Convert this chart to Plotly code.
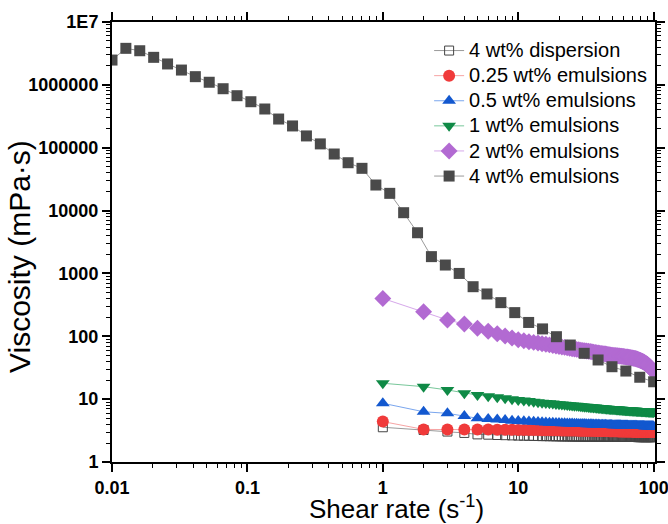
import plotly.graph_objects as go

# Shear rates (s^-1)
rate_4wt_emul = [0.01, 0.01266, 0.01603, 0.02031, 0.02572, 0.03257, 0.04125, 0.05223,
                 0.06615, 0.08377, 0.1061, 0.1344, 0.1701, 0.2154, 0.2728, 0.3455,
                 0.4375, 0.5541, 0.7017, 0.8886, 1.125, 1.425, 1.805, 2.285, 2.894,
                 3.665, 4.642, 5.878, 7.443, 9.427, 11.94, 15.12, 19.15, 24.24, 30.70,
                 38.88, 49.24, 62.36, 78.97, 100.0]
rate_steps = list(range(1, 101))

# Viscosities (mPa·s)
visc_4wt_emul = [2.48e6, 3.81e6, 3.49e6, 2.74e6, 2.15e6, 1.72e6, 1.35e6, 1.10e6,
                 8.68e5, 6.72e5, 5.39e5, 4.13e5, 2.86e5, 2.22e5, 1.54e5, 1.15e5,
                 7.94e4, 5.77e4, 4.70e4, 2.55e4, 1.88e4, 9.25e3, 4.44e3, 1.85e3,
                 1.36e3, 1.00e3, 615, 471, 343, 238, 166, 131, 98.5, 72.6, 53.6,
                 42.0, 32.8, 28.0, 22.3, 18.9]

visc_2wt_emul = [400, 246, 182, 157, 134, 120, 110, 101, 94, 88,
                 85, 82, 80, 78, 76, 74.5, 73, 71.5, 70, 68.5,
                 67.5, 66.5, 65.5, 64.5, 63.5, 62.5, 61.8, 61, 60.3, 59.6,
                 59, 58.4, 57.8, 57.2, 56.6, 56, 55.5, 55, 54.5, 54,
                 53.5, 53, 52.6, 52.2, 51.8, 51.4, 51, 50.6, 50.2, 49.8,
                 49.6, 49.4, 49.2, 49, 48.8, 48.5, 48.3, 48.1, 47.9, 47.6,
                 47.4, 47.1, 46.9, 46.7, 46.4, 46.2, 46, 45.7, 45.4, 45.1,
                 44.8, 44.5, 44.2, 43.8, 43.4, 43, 42.6, 42.2, 41.7, 41.2,
                 40.7, 40.2, 39.7, 39.2, 38.6, 38, 37.4, 36.8, 36.2, 35.5,
                 34.8, 34.1, 33.3, 32.5, 31.7, 30.9, 30.1, 29.3, 28.5, 27.7]

visc_1wt_emul = [17.9, 15.8, 14.0, 12.4, 11.6, 11.1, 10.7, 10.3, 10.0, 9.7,
                 9.5, 9.3, 9.1, 8.95, 8.8, 8.7, 8.6, 8.5, 8.4, 8.3,
                 8.22, 8.15, 8.08, 8.01, 7.94, 7.88, 7.82, 7.76, 7.7, 7.64,
                 7.59, 7.54, 7.49, 7.45, 7.41, 7.37, 7.33, 7.29, 7.25, 7.21,
                 7.18, 7.15, 7.12, 7.09, 7.06, 7.03, 7.0, 6.97, 6.94, 6.92,
                 6.9, 6.88, 6.86, 6.84, 6.82, 6.8, 6.78, 6.76, 6.74, 6.72,
                 6.7, 6.68, 6.67, 6.66, 6.64, 6.62, 6.61, 6.6, 6.58, 6.56,
                 6.55, 6.54, 6.53, 6.52, 6.5, 6.49, 6.48, 6.47, 6.46, 6.45,
                 6.44, 6.43, 6.42, 6.41, 6.4, 6.39, 6.38, 6.37, 6.36, 6.35,
                 6.34, 6.33, 6.32, 6.31, 6.3, 6.3, 6.29, 6.28, 6.27, 6.26]

visc_05wt_emul = [8.6, 6.3, 5.95, 5.4, 4.96, 4.85, 4.75, 4.65, 4.55, 4.48,
                  4.43, 4.39, 4.35, 4.32, 4.29, 4.26, 4.23, 4.21, 4.19, 4.17,
                  4.15, 4.13, 4.11, 4.1, 4.08, 4.07, 4.05, 4.04, 4.03, 4.02,
                  4.01, 4.0, 3.99, 3.98, 3.97, 3.96, 3.95, 3.94, 3.94, 3.93,
                  3.92, 3.91, 3.91, 3.9, 3.89, 3.89, 3.88, 3.87, 3.87, 3.86,
                  3.86, 3.85, 3.85, 3.84, 3.84, 3.83, 3.83, 3.82, 3.82, 3.81,
                  3.81, 3.8, 3.8, 3.8, 3.79, 3.79, 3.78, 3.78, 3.78, 3.77,
                  3.77, 3.77, 3.76, 3.76, 3.76, 3.75, 3.75, 3.75, 3.74, 3.74,
                  3.74, 3.73, 3.73, 3.73, 3.73, 3.72, 3.72, 3.72, 3.71, 3.71,
                  3.71, 3.71, 3.7, 3.7, 3.7, 3.7, 3.69, 3.69, 3.69, 3.68]

visc_025wt_emul = [4.4, 3.3, 3.28, 3.3, 3.3, 3.28, 3.27, 3.26, 3.25, 3.24,
                   3.23, 3.23, 3.22, 3.22, 3.21, 3.21, 3.2, 3.2, 3.19, 3.19,
                   3.18, 3.18, 3.17, 3.17, 3.16, 3.16, 3.16, 3.15, 3.15, 3.15,
                   3.14, 3.14, 3.14, 3.13, 3.13, 3.13, 3.12, 3.12, 3.12, 3.11,
                   3.11, 3.11, 3.1, 3.1, 3.1, 3.1, 3.09, 3.09, 3.09, 3.09,
                   3.08, 3.08, 3.08, 3.08, 3.07, 3.07, 3.07, 3.07, 3.07, 3.06,
                   3.06, 3.06, 3.06, 3.06, 3.05, 3.05, 3.05, 3.05, 3.05, 3.05,
                   3.04, 3.04, 3.04, 3.04, 3.04, 3.04, 3.04, 3.04, 3.04, 3.04,
                   3.04, 3.03, 3.03, 3.03, 3.03, 3.03, 3.03, 3.03, 3.03, 3.03,
                   3.02, 3.02, 3.02, 3.02, 3.02, 3.02, 3.02, 3.02, 3.02, 3.02]

visc_4wt_disp = [3.57, 3.23, 3.05, 2.9, 2.75, 2.72, 2.69, 2.67, 2.65, 2.63,
                 2.62, 2.61, 2.6, 2.59, 2.58, 2.58, 2.57, 2.57, 2.56, 2.56,
                 2.55, 2.55, 2.55, 2.55, 2.54, 2.54, 2.54, 2.54, 2.54, 2.53,
                 2.53, 2.53, 2.53, 2.53, 2.53, 2.52, 2.52, 2.52, 2.52, 2.52,
                 2.52, 2.52, 2.52, 2.51, 2.51, 2.51, 2.51, 2.51, 2.51, 2.51,
                 2.51, 2.51, 2.51, 2.51, 2.5, 2.5, 2.5, 2.5, 2.5, 2.5,
                 2.5, 2.5, 2.5, 2.5, 2.5, 2.5, 2.5, 2.5, 2.5, 2.5,
                 2.5, 2.5, 2.5, 2.5, 2.5, 2.49, 2.49, 2.49, 2.49, 2.49,
                 2.49, 2.49, 2.49, 2.49, 2.49, 2.49, 2.49, 2.49, 2.49, 2.49,
                 2.49, 2.49, 2.49, 2.49, 2.49, 2.49, 2.49, 2.49, 2.49, 2.49]

x_tick_vals = [0.01, 0.1, 1, 10, 100]
x_tick_text = ["0.01", "0.1", "1", "10", "100"]
y_tick_vals = [1, 10, 100, 1000, 10000, 100000, 1000000, 10000000]
y_tick_text = ["1", "10", "100", "1000", "10000", "100000", "1000000", "1E7"]

FONT = "Liberation Sans, Arial, sans-serif"

series = [
    ("4 wt% dispersion", rate_steps, visc_4wt_disp, "square-open", 9, "#444444", "#9a9a9a"),
    ("0.25 wt% emulsions", rate_steps, visc_025wt_emul, "circle", 12, "#f03a3a", "#f6a4a4"),
    ("0.5 wt% emulsions", rate_steps, visc_05wt_emul, "triangle-up", 12, "#1358cf", "#7aa6ee"),
    ("1 wt% emulsions", rate_steps, visc_1wt_emul, "triangle-down", 12, "#0f8a46", "#78c79a"),
    ("2 wt% emulsions", rate_steps, visc_2wt_emul, "diamond", 13, "#b26ad2", "#d6a8ea"),
    ("4 wt% emulsions", rate_4wt_emul, visc_4wt_emul, "square", 11, "#4a4a4a", "#9a9a9a"),
]

fig = go.Figure()
for name, xs, ys, sym, size, mcol, lcol in series:
    fig.add_trace(go.Scatter(
        x=xs, y=ys, mode="lines+markers",
        name='<span style="font-size:20px">%s</span>' % name,
        line=dict(color=lcol, width=1),
        marker=dict(symbol=sym, size=size, color=mcol,
                    line=dict(width=1 if sym.endswith("open") else 0, color=mcol)),
    ))


def minor_positions(lo, hi):
    vals = []
    for e in range(lo, hi):
        for m in range(2, 10):
            vals.append(m * 10 ** e)
    return vals


x_range = [-2, 2.01]
y_range = [0, 7]

axis_common = dict(
    type="log", showgrid=False, zeroline=False,
    showline=True, linecolor="black", linewidth=2, mirror="ticks",
    ticks="outside", ticklen=8, tickwidth=1.5, tickcolor="black",
    tickfont=dict(size=18, weight="bold", family=FONT),
    ticklabeloverflow="allow", automargin=False,
)

fig.update_layout(
    width=668, height=524,
    margin=dict(l=112, r=13, t=22, b=62),
    paper_bgcolor="white", plot_bgcolor="white",
    font=dict(family=FONT, color="black"),
    xaxis=dict(
        **axis_common, range=x_range,
        tickmode="array", tickvals=x_tick_vals, ticktext=x_tick_text,
        minor=dict(ticks="outside", ticklen=4, tickwidth=1.2, tickcolor="black",
                   tickmode="array", tickvals=minor_positions(-2, 2), showgrid=False),
    ),
    yaxis=dict(
        **axis_common, range=y_range,
        tickmode="array", tickvals=y_tick_vals, ticktext=y_tick_text,
        minor=dict(ticks="outside", ticklen=4, tickwidth=1.2, tickcolor="black",
                   tickmode="array", tickvals=minor_positions(0, 7), showgrid=False),
    ),
    legend=dict(
        x=0.584, y=0.975, xanchor="left", yanchor="top",
        bgcolor="rgba(0,0,0,0)", borderwidth=0,
        font=dict(size=17, family=FONT), tracegroupgap=0,
    ),
    showlegend=True,
    annotations=[
        dict(text="Shear rate (s<sup>-1</sup>)", xref="paper", yref="paper",
             x=(396 - 112) / 543, y=(462 - 507) / 440, borderpad=0,
             xanchor="center", yanchor="middle", showarrow=False,
             font=dict(size=26, family=FONT)),
        dict(text="Viscosity (mPa·s)", xref="paper", yref="paper",
             x=(19 - 112) / 543, y=(462 - 257) / 440, textangle=-90, borderpad=0,
             xanchor="center", yanchor="middle", showarrow=False,
             font=dict(size=30, family=FONT)),
    ],
)

fig.write_html("out.html")
